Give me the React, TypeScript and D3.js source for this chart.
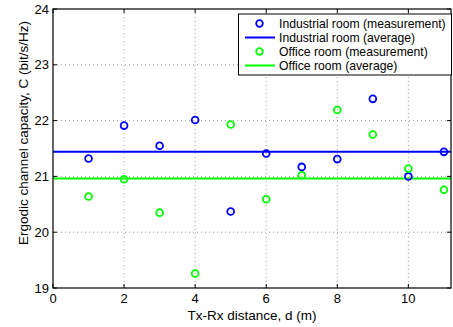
import React from "react";
import * as d3 from "d3";

const distances = [1, 2, 3, 4, 5, 6, 7, 8, 9, 10, 11];
const industrial = [21.32, 21.91, 21.55, 22.01, 20.37, 21.41, 21.17, 21.31, 22.39, 21.0, 21.44];
const office = [20.64, 20.95, 20.35, 19.26, 21.93, 20.59, 21.02, 22.19, 21.75, 21.14, 20.76];
const xTicks = [0, 2, 4, 6, 8, 10];
const yTicks = [19, 20, 21, 22, 23, 24];
const legendItems = [
  { label: "Industrial room (measurement)", color: "#0000ff", type: "marker" },
  { label: "Industrial room (average)", color: "#0000ff", type: "line" },
  { label: "Office room (measurement)", color: "#00ff00", type: "marker" },
  { label: "Office room (average)", color: "#00ff00", type: "line" },
];

export default function App() {
  const W = 453, H = 327;
  const L = 53, R = 451, T = 9, B = 288;
  const x = d3.scaleLinear().domain([0, 11.2]).range([L, R]);
  const y = d3.scaleLinear().domain([19, 24]).range([B, T]);
  const font = "Liberation Sans, Arial, sans-serif";
  const indAvg = d3.mean(industrial)!;
  const offAvg = d3.mean(office)!;
  const tick = 4;
  return (
    <svg width={W} height={H} style={{ position: "absolute", left: 0, top: 0, background: "#fff" }} fontFamily={font}>
      <rect x={0} y={0} width={W} height={H} fill="#fff" />
      {xTicks.filter(t => t > 0).map(t => (
        <line key={"gx" + t} x1={x(t)} x2={x(t)} y1={T} y2={B} stroke="#777" strokeWidth={0.7} strokeDasharray="1,3" />
      ))}
      {yTicks.filter(t => t > 19 && t < 24).map(t => (
        <line key={"gy" + t} x1={L} x2={R} y1={y(t)} y2={y(t)} stroke="#777" strokeWidth={0.7} strokeDasharray="1,3" />
      ))}
      <line x1={L} x2={R} y1={y(indAvg)} y2={y(indAvg)} stroke="#0000ff" strokeWidth={2} />
      <line x1={L} x2={R} y1={y(offAvg)} y2={y(offAvg)} stroke="#00ff00" strokeWidth={2} />
      {distances.map((d, i) => (
        <circle key={"i" + i} cx={x(d)} cy={y(industrial[i])} r={3.4} fill="none" stroke="#0000ff" strokeWidth={1.8} />
      ))}
      {distances.map((d, i) => (
        <circle key={"o" + i} cx={x(d)} cy={y(office[i])} r={3.4} fill="none" stroke="#00ff00" strokeWidth={1.8} />
      ))}
      <rect x={L} y={T} width={R - L} height={B - T} fill="none" stroke="#000" strokeWidth={1.2} />
      {xTicks.map(t => (
        <g key={"xt" + t}>
          <line x1={x(t)} x2={x(t)} y1={B} y2={B - tick} stroke="#000" />
          <line x1={x(t)} x2={x(t)} y1={T} y2={T + tick} stroke="#000" />
          <text x={x(t)} y={B + 15} fontSize={13} textAnchor="middle">{t}</text>
        </g>
      ))}
      {yTicks.map(t => (
        <g key={"yt" + t}>
          <line x1={L} x2={L + tick} y1={y(t)} y2={y(t)} stroke="#000" />
          <line x1={R} x2={R - tick} y1={y(t)} y2={y(t)} stroke="#000" />
          <text x={L - 4} y={y(t) + 4.5} fontSize={13} textAnchor="end">{t}</text>
        </g>
      ))}
      <text x={(L + R) / 2} y={320} fontSize={13.5} textAnchor="middle">Tx-Rx distance, d (m)</text>
      <text transform={`translate(28,133) rotate(-90)`} fontSize={13.5} textAnchor="middle">Ergodic channel capacity, C (bit/s/Hz)</text>
      <rect x={238.5} y={14} width={213} height={61} fill="#fff" stroke="#000" strokeWidth={1} />
      {legendItems.map((it, i) => {
        const cy = 23.5 + i * 14;
        return (
          <g key={"lg" + i}>
            {it.type === "marker" ? (
              <circle cx={259.5} cy={cy} r={3.3} fill="none" stroke={it.color} strokeWidth={1.8} />
            ) : (
              <line x1={245} x2={275} y1={cy} y2={cy} stroke={it.color} strokeWidth={2} />
            )}
            <text x={279} y={cy + 4.5} fontSize={12.2}>{it.label}</text>
          </g>
        );
      })}
    </svg>
  );
}
